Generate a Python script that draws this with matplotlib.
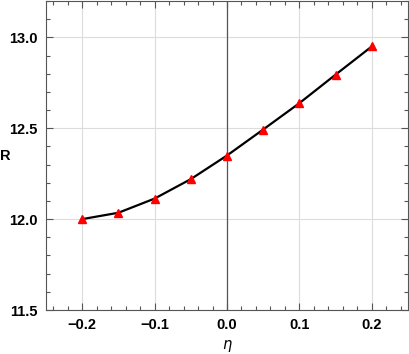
import numpy as np
import matplotlib
matplotlib.use("Agg")
from matplotlib import pyplot as plt
from matplotlib.ticker import MultipleLocator

eta = [-0.2, -0.15, -0.1, -0.05, 0.0, 0.05, 0.1, 0.15, 0.2]
R = [12.0, 12.035, 12.113, 12.22, 12.35, 12.493, 12.638, 12.795, 12.95]

plt.rcParams['font.family'] = ['Liberation Sans', 'DejaVu Sans']

fig = plt.figure(figsize=(4.09, 3.54), dpi=100)
ax = fig.add_axes([46 / 409, 44 / 354, 362 / 409, 309 / 354])

# grid and axis line at eta = 0
ax.grid(True, which='major', color='#dcdcdc', lw=0.8)
ax.axvline(0.0, color='#555555', lw=0.9, zorder=1.8)

ax.plot(eta, R, color='black', lw=1.6, zorder=2)
ax.plot(eta, R, ls='none', marker='^', ms=6, color='red', zorder=3)

ax.set_xlim(-0.25, 0.25)
ax.set_ylim(11.5, 13.2)
ax.xaxis.set_minor_locator(MultipleLocator(0.02))
ax.yaxis.set_minor_locator(MultipleLocator(0.1))
ax.set_xticks([-0.2, -0.1, 0.0, 0.1, 0.2])
ax.set_xticklabels(['\u22120.2', '\u22120.1', '0.0', '0.1', '0.2'])
ax.set_yticks([11.5, 12.0, 12.5, 13.0])
ax.set_yticklabels(['11.5', '12.0', '12.5', '13.0'])

ax.tick_params(which='both', direction='in', top=True, right=True,
               color='#555555', width=0.8)
ax.tick_params(which='major', length=5, labelsize=10.5, pad=6)
ax.tick_params(which='minor', length=3)
for lab in ax.get_xticklabels() + ax.get_yticklabels():
    lab.set_fontweight('bold')
for s in ax.spines.values():
    s.set_color('#555555')
    s.set_linewidth(0.8)

ax.set_xlabel('$\\eta$', fontsize=10.5, va='center')
ax.xaxis.set_label_coords(0.5, -0.118)
ax.set_ylabel('R', fontsize=10.5, fontweight='bold', rotation=0, va='center', ha='center')
ax.yaxis.set_label_coords(-0.113, 0.5)

fig.savefig('out.png', dpi=100)
